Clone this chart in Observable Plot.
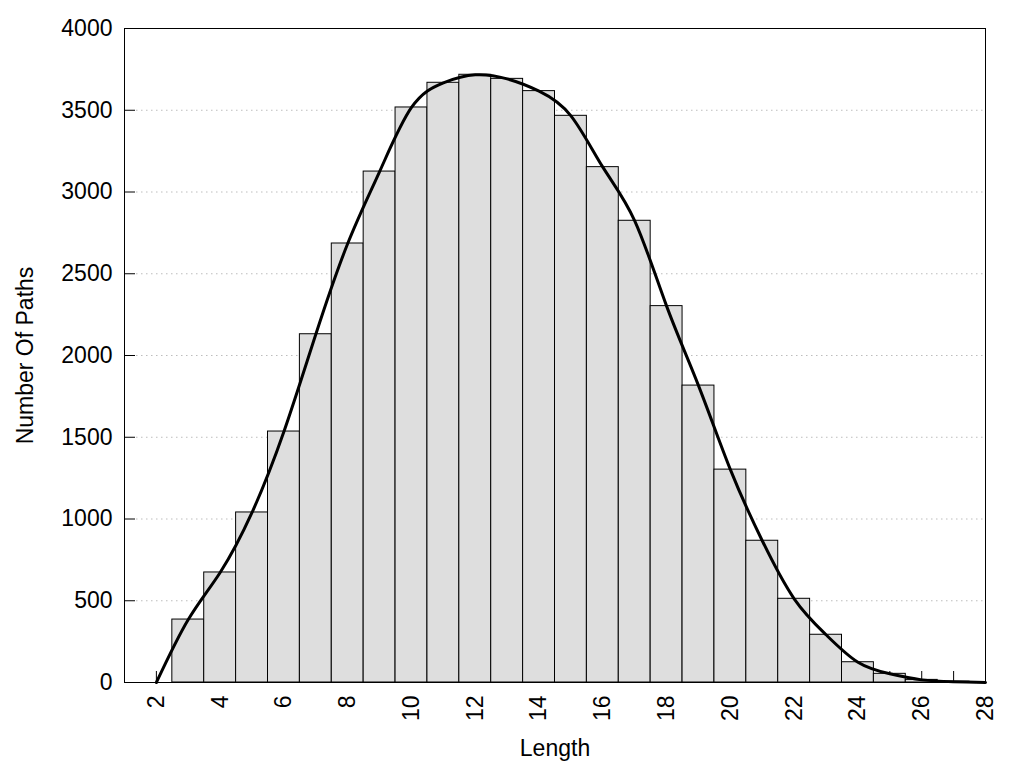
<!DOCTYPE html>
<html>
<head>
<meta charset="utf-8">
<script src="https://cdn.jsdelivr.net/npm/d3@7"></script>
<script src="https://cdn.jsdelivr.net/npm/@observablehq/plot@0.6"></script>
<style>
  html, body { margin: 0; padding: 0; background: #ffffff; }
  svg { display: block; }
</style>
</head>
<body>
<div id="chart"></div>
<script>
// Histogram of path lengths
const lengths = [3, 4, 5, 6, 7, 8, 9, 10, 11, 12, 13, 14, 15, 16, 17, 18, 19, 20, 21, 22, 23, 24, 25, 26, 27];
const counts  = [385, 673, 1040, 1535, 2130, 2685, 3125, 3517, 3668, 3717, 3692, 3617, 3466, 3152, 2824, 2302, 1816, 1302, 867, 512, 292, 124, 53, 16, 5];

// Smoothed curve: starts and ends at zero, passes through the bar tops
const curveStartX = 2, curveStartY = 0;
const curveEndX = 28, curveEndY = 0;

// Axis ticks
const xTickLabels = [2, 4, 6, 8, 10, 12, 14, 16, 18, 20, 22, 24, 26, 28];
const xMinorTicks = [1, 2, 3, 4, 5, 6, 7, 8, 9, 10, 11, 12, 13, 14, 15, 16, 17, 18, 19, 20, 21, 22, 23, 24, 25, 26, 27, 28];
const yTickLabels = [0, 500, 1000, 1500, 2000, 2500, 3000, 3500, 4000];
const yGridLines = [500, 1000, 1500, 2000, 2500, 3000, 3500];

const xTitle = "Length";
const yTitle = "Number Of Paths";

const bars = lengths.map((len, i) => ({len, count: counts[i]}));
const curvePts = [{len: curveStartX, count: curveStartY}, ...bars, {len: curveEndX, count: curveEndY}];

const chart = Plot.plot({
  width: 1024,
  height: 768,
  marginLeft: 124,
  marginRight: 39,
  marginTop: 28,
  marginBottom: 86,
  style: {fontFamily: "'Liberation Sans', Arial, sans-serif", fontSize: "23px", background: "#ffffff", color: "#000"},
  x: {domain: [1, 28], axis: null},
  y: {domain: [0, 4000], axis: null},
  marks: [
    Plot.gridY(yGridLines, {stroke: "#bdbdbd", strokeOpacity: 1, strokeWidth: 1, strokeDasharray: "1.5,3.5", insetLeft: 12}),
    Plot.axisX(xMinorTicks, {anchor: "bottom", tickSize: -11, tickFormat: () => "", label: null, stroke: "black"}),
    Plot.axisY(yTickLabels, {anchor: "left", tickSize: -11, tickPadding: 23, tickFormat: d => String(d), label: null, fill: "black", fontSize: 23}),
    Plot.axisX(xTickLabels, {anchor: "bottom", tickSize: 0, tickRotate: -90, tickPadding: 13, tickFormat: d => String(d), label: null, fill: "black", fontSize: 23}),
    Plot.rectY(bars, {x1: d => d.len - 0.5, x2: d => d.len + 0.5, y: "count", fill: "#dedede", stroke: "black", strokeWidth: 1}),
    Plot.line(curvePts, {x: "len", y: "count", curve: "natural", stroke: "black", strokeWidth: 3}),
    Plot.frame({stroke: "black", strokeWidth: 1}),
    Plot.text([xTitle], {frameAnchor: "bottom", dy: 66, lineAnchor: "middle", textAnchor: "middle", fontSize: 23, fill: "black"}),
    Plot.text([yTitle], {frameAnchor: "left", dx: -99, rotate: -90, lineAnchor: "middle", textAnchor: "middle", fontSize: 23, fill: "black"})
  ]
});
document.getElementById("chart").appendChild(chart);
</script>
</body>
</html>
